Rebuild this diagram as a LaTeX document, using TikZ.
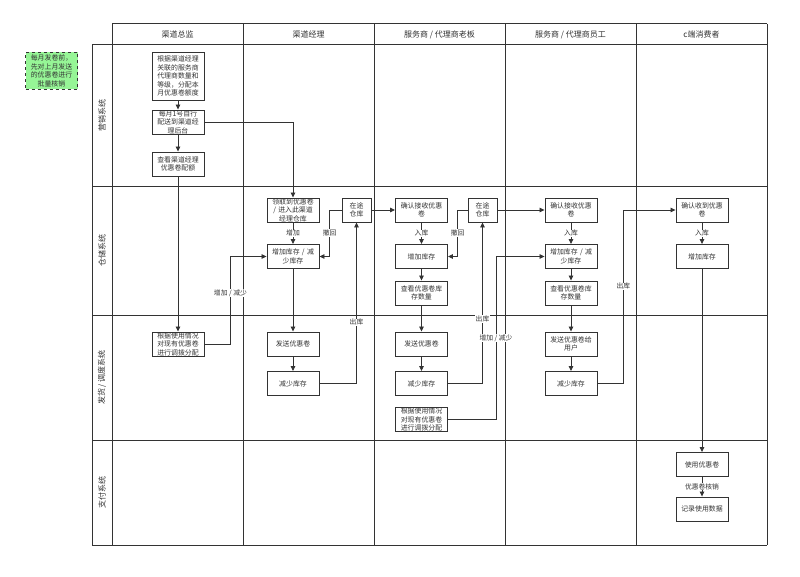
\documentclass[tikz,border=0pt]{standalone}
\usepackage{fontspec}
\newfontfamily\cjk{Noto Sans CJK SC}
\usepackage{tikz}
\usetikzlibrary{arrows.meta}
\definecolor{linegray}{HTML}{333333}
\definecolor{notegreen}{RGB}{150,245,150}
\tikzset{
    box/.style={draw=linegray, line width=0.9pt, fill=white, text=linegray,
        minimum width=52pt, minimum height=24pt, inner sep=0pt,
        text width=52pt, align=center, font=\cjk\fontsize{6.9}{8.6}\selectfont},
    store/.style={box, minimum width=29pt, text width=29pt},
    flow/.style={draw=linegray, line width=0.8pt, -{Triangle[width=4.5pt,length=5pt]}},
    lbl/.style={fill=white, inner sep=0.6pt, text=linegray, font=\cjk\fontsize{6.8}{7.5}\selectfont},
    lane/.style={draw=linegray, line width=1pt},
    head/.style={text=linegray, font=\cjk\fontsize{8}{9.5}\selectfont},
}

\begin{document}
\begin{tikzpicture}[x=1pt, y=-1pt]
\useasboundingbox[fill=white] (0,0) rectangle (800,577);

% lanes
\draw[lane] (112,24)--(767,24);
\foreach \y in {45,187,315,440,545} \draw[lane] (92,\y)--(767,\y);
\draw[lane] (92,45)--(92,545);
\foreach \x in {112,243,374,505,636,767} \draw[lane] (\x,24)--(\x,545);

\node[head] (h1) at (177.5,34.5) {渠道总监};
\node[head] (h2) at (308.5,34.5) {渠道经理};
\node[head] (h3) at (439.5,34.5) {服务商 / 代理商老板};
\node[head] (h4) at (570.5,34.5) {服务商 / 代理商员工};
\node[head] (h5) at (701.5,34.5) {c端消费者};

\node[head, rotate=90] (r1) at (102,116) {营销系统};
\node[head, rotate=90] (r2) at (102,251) {仓储系统};
\node[head, rotate=90] (r3) at (102,377.5) {发货 / 调度系统};
\node[head, rotate=90] (r4) at (102,492.5) {支付系统};

\node[box, fill=notegreen, dashed, minimum height=37pt] (note) at (51.5,71)
    {每月发卷前，\\先对上月发送\\的优惠卷进行\\批量核销};

% 渠道总监
\node[box, minimum height=48pt] (a1) at (178,76) {根据渠道经理\\关联的服务商\\代理商数量和\\等级，分配本\\月优惠卷额度};
\node[box] (a2) at (178,122) {每月1号自行\\配送到渠道经\\理后台};
\node[box] (a3) at (178,164) {查看渠道经理\\优惠卷配额};
\node[box] (a4) at (178,344) {根据使用情况\\对现有优惠卷\\进行调拨分配};

% 渠道经理
\node[box] (b1) at (293,210) {领取到优惠卷\\/ 进入此渠道\\经理仓库};
\node[box] (b2) at (293,256.5) {增加库存 / 减\\少库存};
\node[box] (b3) at (293,344) {发送优惠卷};
\node[box] (b4) at (293,383.5) {减少库存};
\node[store] (z1) at (356.5,210) {在途\\仓库};

% 服务商 / 代理商老板
\node[box] (c1) at (421.5,210) {确认接收优惠\\卷};
\node[box] (c2) at (421.5,256.5) {增加库存};
\node[box] (c3) at (421.5,293) {查看优惠卷库\\存数量};
\node[box] (c4) at (421.5,344) {发送优惠卷};
\node[box] (c5) at (421.5,383.5) {减少库存};
\node[box] (c6) at (421.5,419.5) {根据使用情况\\对现有优惠卷\\进行调拨分配};
\node[store] (z2) at (482.5,210) {在途\\仓库};

% 服务商 / 代理商员工
\node[box] (d1) at (571,210) {确认接收优惠\\卷};
\node[box] (d2) at (571,256.5) {增加库存 / 减\\少库存};
\node[box] (d3) at (571,293) {查看优惠卷库\\存数量};
\node[box] (d4) at (571,344) {发送优惠卷给\\用户};
\node[box] (d5) at (571,383.5) {减少库存};

% c端消费者
\node[box] (e1) at (702,210) {确认收到优惠\\卷};
\node[box] (e2) at (702,256.5) {增加库存};
\node[box] (e3) at (702,464.5) {使用优惠卷};
\node[box] (e4) at (702,509) {记录使用数据};

% flows
\draw[flow] (a1)--(a2);
\draw[flow] (a2)--(a3);
\draw[flow] (a3)--(a4);
\draw[flow] (a2.east) -| (b1.north);
\draw[flow] (a4.east) -- ++(26,0) |- node[pos=0.29, lbl] {增加 / 减少} (b2.west);

\draw[flow] (b1) -- node[lbl] {增加} (b2);
\draw[flow] (b2)--(b3);
\draw[flow] (b3)--(b4);
\draw[flow] (b4.east) -| node[pos=0.69, lbl] {出库} (z1.south);
\draw[flow] (z1.west) -- ++(-12,0) |- node[pos=0.25, lbl] {撤回} (b2.east);
\draw[flow] (z1.east) -- (c1.west);

\draw[flow] (c1) -- node[lbl] {入库} (c2);
\draw[flow] (c2)--(c3);
\draw[flow] (c3)--(c4);
\draw[flow] (c4)--(c5);
\draw[flow] (c5.east) -| node[pos=0.7, lbl] {出库} (z2.south);
\draw[flow] (z2.west) -- ++(-10,0) |- node[pos=0.25, lbl] {撤回} (c2.east);
\draw[flow] (c6.east) -- ++(48,0) |- node[pos=0.25, lbl] {增加 / 减少} (d2.west);
\draw[flow] (z2.east) -- (d1.west);

\draw[flow] (d1) -- node[lbl] {入库} (d2);
\draw[flow] (d2)--(d3);
\draw[flow] (d3)--(d4);
\draw[flow] (d4)--(d5);
\draw[flow] (d5.east) -- ++(26,0) |- node[pos=0.28, lbl] {出库} (e1.west);

\draw[flow] (e1) -- node[lbl] {入库} (e2);
\draw[flow] (e2)--(e3);
\draw[flow] (e3) -- node[lbl] {优惠卷核销} (e4);
\end{tikzpicture}
\end{document}
